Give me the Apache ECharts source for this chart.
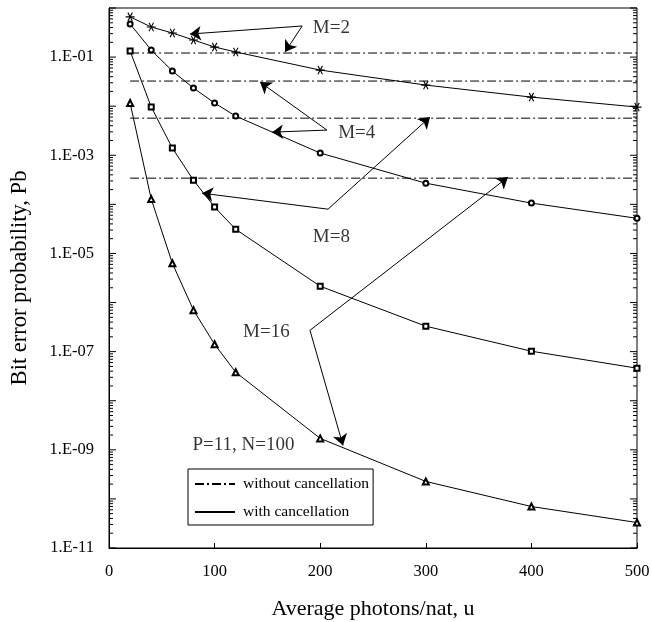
<!DOCTYPE html>
<html>
<head>
<meta charset="utf-8">
<title>Bit error probability</title>
<script src="https://cdn.jsdelivr.net/npm/echarts@6/dist/echarts.min.js"></script>
<style>
  html, body { margin: 0; padding: 0; background: #fff; }
  #chart { width: 652px; height: 622px; }
</style>
</head>
<body>
<div id="chart"></div>
<script>
// average photons/nat
var xValues = [20, 40, 60, 80, 100, 120, 200, 300, 400, 500];
// with cancellation
var pbM2  = [0.66, 0.41, 0.31, 0.223, 0.16, 0.127, 0.0544, 0.0269, 0.0153, 0.0096];
var pbM4  = [0.472, 0.139, 0.052, 0.0234, 0.0116, 0.00628, 1.11e-3, 2.7e-4, 1.06e-4, 5.2e-5];
var pbM8  = [0.133, 0.0096, 1.4e-3, 3.1e-4, 8.8e-5, 3.1e-5, 2.15e-6, 3.3e-7, 1.02e-7, 4.6e-8];
var pbM16 = [0.0116, 1.28e-4, 6.3e-6, 7.0e-7, 1.41e-7, 3.8e-8, 1.71e-9, 2.27e-10, 7.0e-11, 3.3e-11];
// without cancellation (M=2, 4, 8, 16)
var noCancel = [0.121, 0.0325, 0.0057, 3.42e-4];

// annotations: [text, x, y]
var notes = [
  ['M=2', 193, 0.39],
  ['M=4', 217, 2.83e-3],
  ['M=8', 193, 2.14e-5],
  ['M=16', 127, 2.48e-7],
  ['P=11, N=100', 79, 1.23e-9]
];
// arrows: [fromX, fromY, toX, toY]
var arrows = [
  [183, 0.43, 76.7, 0.295],
  [183, 0.43, 166.7, 0.127],
  [206.4, 3.26e-3, 143, 0.031],
  [206.4, 3.26e-3, 154.4, 2.96e-3],
  [207.4, 7.98e-5, 88.1, 1.69e-4],
  [207.4, 7.98e-5, 304, 6.0e-3],
  [190.3, 2.72e-7, 377.8, 3.59e-4],
  [190.3, 2.72e-7, 221.6, 1.23e-9]
];

var serif = 'Liberation Serif';
var asterisk = 'path://M-5,-0.6L5,-0.6L5,0.6L-5,0.6Z M-1.98,-4.63L3.02,4.03L1.98,4.63L-3.02,-4.03Z M3.02,-4.03L-1.98,4.63L-3.02,4.03L1.98,-4.63Z';

// log ticks on both sides of the frame
var logTicks = [];
for (var e = -11; e <= 0; e++) {
  for (var m = 1; m <= 9; m++) {
    if (e === 0 && m > 1) break;
    logTicks.push([0, m * Math.pow(10, e), m === 1 ? 7 : 4]);
  }
}

function pairs(ys) {
  return xValues.map(function (x, i) { return [x, ys[i]]; });
}

function curve(name, ys, symbol, size) {
  return {
    name: name,
    type: 'line',
    data: pairs(ys),
    symbol: symbol,
    symbolSize: size,
    showSymbol: true,
    lineStyle: { color: '#000', width: 1 },
    itemStyle: { color: '#000', borderWidth: 1 },
    z: 3
  };
}

var series = [];
noCancel.forEach(function (v) {
  series.push({
    name: 'without cancellation',
    type: 'line',
    data: [[xValues[0], v], [xValues[xValues.length - 1], v]],
    symbol: 'none',
    lineStyle: { color: '#000', width: 1, type: [9, 3, 2, 3] },
    itemStyle: { color: '#000' },
    z: 2
  });
});
series.push({
  name: 'with cancellation',
  type: 'line',
  data: [],
  symbol: 'none',
  lineStyle: { color: '#000', width: 1 },
  itemStyle: { color: '#000' }
});
series.push(curve('M=2', pbM2, asterisk, 9));
series.push(curve('M=4', pbM4, 'emptyCircle', 5));
series.push(curve('M=8', pbM8, 'emptyRect', 5));
series.push(curve('M=16', pbM16, 'emptyTriangle', 6));

series.push({
  name: 'notes',
  type: 'scatter',
  silent: true,
  symbolSize: 0,
  data: notes.map(function (n) { return { name: n[0], value: [n[1], n[2]] }; }),
  label: {
    show: true, position: 'right', distance: 0, formatter: '{b}',
    color: '#000', fontFamily: serif, fontSize: 19
  },
  markLine: {
    silent: true,
    symbol: ['none', 'arrow'],
    symbolSize: 11,
    label: { show: false },
    lineStyle: { color: '#000', width: 1, type: 'solid' },
    data: arrows.map(function (a) {
      return [{ coord: [a[0], a[1]] }, { coord: [a[2], a[3]] }];
    })
  },
  z: 4
});

series.push({
  name: 'ticks',
  type: 'custom',
  silent: true,
  clip: false,
  data: logTicks,
  encode: { x: 0, y: 1 },
  renderItem: function (params, api) {
    var y = api.coord([0, api.value(1)])[1];
    var len = api.value(2);
    var left = params.coordSys.x;
    var right = left + params.coordSys.width;
    return {
      type: 'group',
      children: [
        { type: 'line', shape: { x1: left, y1: y, x2: left + len, y2: y }, style: { stroke: '#000', lineWidth: 1 } },
        { type: 'line', shape: { x1: right - len, y1: y, x2: right, y2: y }, style: { stroke: '#000', lineWidth: 1 } }
      ]
    };
  }
});

var myChart = echarts.init(document.getElementById('chart'));

var option = {
  backgroundColor: '#fff',
  animation: false,
  grid: {
    left: 109, right: 15, top: 8, bottom: 74,
    outerBoundsMode: 'none',
    show: true, borderColor: '#000', borderWidth: 1
  },
  legend: {
    data: ['without cancellation', 'with cancellation'],
    orient: 'vertical',
    left: 188,
    top: 469,
    itemWidth: 40,
    itemHeight: 14,
    itemGap: 12,
    padding: [7, 4, 5, 6],
    borderColor: '#000',
    borderWidth: 1,
    selectedMode: false,
    itemStyle: { opacity: 0 },
    textStyle: { color: '#000', fontFamily: serif, fontSize: 15.5, padding: [0, 0, 0, 3] }
  },
  xAxis: {
    type: 'value',
    min: 0,
    max: 500,
    interval: 100,
    name: 'Average photons/nat, u',
    nameLocation: 'middle',
    nameGap: 50,
    nameTextStyle: { color: '#000', fontFamily: serif, fontSize: 22 },
    axisLine: { lineStyle: { color: '#000', width: 1 } },
    axisTick: { inside: true, length: 5, lineStyle: { color: '#000' } },
    axisLabel: { color: '#000', fontFamily: serif, fontSize: 16.5, margin: 15 },
    splitLine: { show: false }
  },
  yAxis: {
    type: 'log',
    logBase: 10,
    min: 1e-11,
    max: 1,
    interval: 1,
    name: 'Bit error probability, Pb',
    nameLocation: 'middle',
    nameGap: 77,
    nameTextStyle: { color: '#000', fontFamily: serif, fontSize: 22.5 },
    axisLine: { lineStyle: { color: '#000', width: 1 } },
    axisTick: { show: false },
    axisLabel: {
      color: '#000', fontFamily: serif, fontSize: 16.5, margin: 15,
      padding: [0, 0, 6, 0],
      formatter: function (v) {
        var p = Math.round(Math.log(v) / Math.LN10);
        if (p % 2 === 0) return '';
        var a = Math.abs(p);
        return '1.E' + (p < 0 ? '-' : '+') + (a < 10 ? '0' + a : a);
      }
    },
    splitLine: { show: false }
  },
  series: series
};

myChart.setOption(option);
</script>
</body>
</html>
